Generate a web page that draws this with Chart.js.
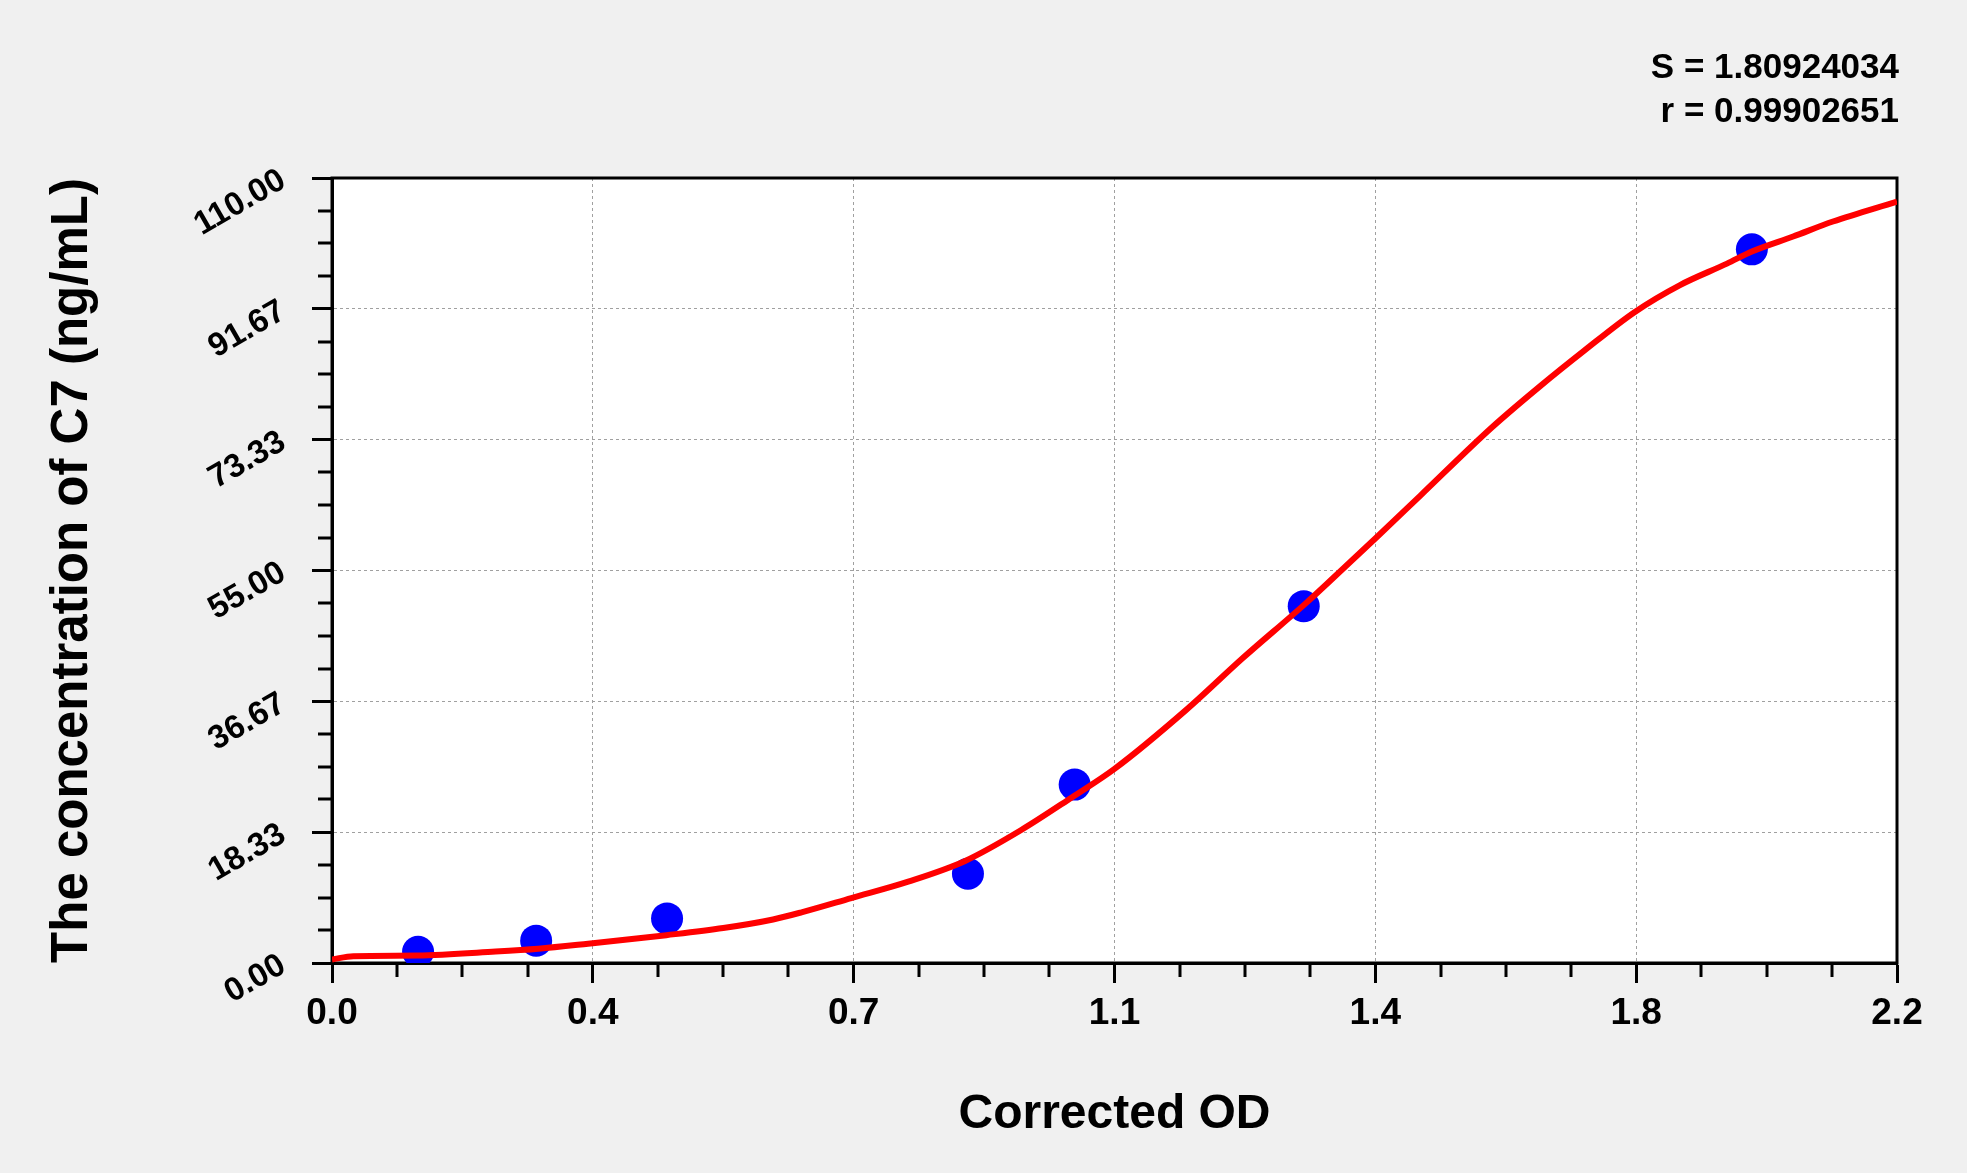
<!DOCTYPE html>
<html><head><meta charset="utf-8">
<script src="https://cdn.jsdelivr.net/npm/chart.js@4.4.0/dist/chart.umd.min.js"></script>
<style>html,body{margin:0;padding:0;background:#f0f0f0;overflow:hidden}canvas{display:block}</style>
</head><body>
<canvas id="c" width="1967" height="1173" style="width:1967px;height:1173px"></canvas>
<script>
// Standards (measured points)
const standardOD = [0.121, 0.287, 0.471, 0.894, 1.044, 1.366, 1.996];
const standardConc = [1.56, 3.13, 6.25, 12.5, 25, 50, 100];
// Fitted curve
const curveOD = [0, 0.03, 0.12, 0.23, 0.29, 0.36, 0.47, 0.55, 0.62, 0.66, 0.73, 0.81, 0.89, 0.97, 1.04, 1.10, 1.20, 1.28, 1.37, 1.44, 1.47, 1.53, 1.63, 1.698, 1.759, 1.831, 1.895, 1.961, 1.996, 2.054, 2.110, 2.20];
const curveConc = [0.5, 0.95, 1.05, 1.6, 2.0, 2.7, 3.9, 4.9, 6.1, 7.1, 9.1, 11.4, 14.3, 18.7, 23.2, 27.2, 35.4, 42.7, 50.5, 57.0, 59.8, 65.5, 75.0, 80.8, 85.7, 91.2, 95.0, 98.0, 99.7, 101.8, 103.9, 106.7];
// Axis ticks
const xTickValues = [0, 0.36667, 0.73333, 1.1, 1.46667, 1.83333, 2.2];
const xTickLabels = ['0.0', '0.4', '0.7', '1.1', '1.4', '1.8', '2.2'];
const yTickValues = [0, 18.3333, 36.6667, 55, 73.3333, 91.6667, 110];
const yTickLabels = ['0.00', '18.33', '36.67', '55.00', '73.33', '91.67', '110.00'];
const statLines = ['S = 1.80924034', 'r = 0.99902651'];
const xTitle = 'Corrected OD';
const yTitle = 'The concentration of C7 (ng/mL)';

const FONT = 'Liberation Sans';

const framePlugin = {
  id: 'frame',
  beforeDraw(chart) {
    const {ctx, chartArea: a} = chart;
    ctx.save();
    ctx.fillStyle = '#f0f0f0';
    ctx.fillRect(0, 0, chart.width, chart.height);
    ctx.fillStyle = '#ffffff';
    ctx.fillRect(a.left, a.top, a.right - a.left, a.bottom - a.top);
    ctx.restore();
  },
  beforeDatasetsDraw(chart) {
    const {ctx, chartArea: a, scales} = chart;
    ctx.save();
    ctx.strokeStyle = '#000';
    ctx.lineWidth = 3;
    ctx.strokeRect(a.left, a.top, a.right - a.left, a.bottom - a.top);
    // minor ticks derived from major tick values
    ctx.beginPath();
    for (let i = 0; i < xTickValues.length - 1; i++) {
      const v0 = xTickValues[i], v1 = xTickValues[i + 1];
      for (let j = 1; j < 4; j++) {
        const px = Math.round(scales.x.getPixelForValue(v0 + (v1 - v0) * j / 4));
        ctx.moveTo(px, a.bottom);
        ctx.lineTo(px, a.bottom + 14);
      }
    }
    for (let i = 0; i < yTickValues.length - 1; i++) {
      const v0 = yTickValues[i], v1 = yTickValues[i + 1];
      for (let j = 1; j < 4; j++) {
        const py = Math.round(scales.y.getPixelForValue(v0 + (v1 - v0) * j / 4));
        ctx.moveTo(a.left - 14, py);
        ctx.lineTo(a.left, py);
      }
    }
    ctx.stroke();
    ctx.restore();
  },
  afterDraw(chart) {
    const {ctx} = chart;
    ctx.save();
    ctx.fillStyle = '#000';
    ctx.font = 'bold 35px "' + FONT + '"';
    ctx.textAlign = 'right';
    ctx.textBaseline = 'alphabetic';
    ctx.fillText(statLines[0], 1899, 78);
    ctx.fillText(statLines[1], 1899, 122);
    ctx.restore();
  }
};

new Chart(document.getElementById('c'), {
  type: 'scatter',
  data: {
    datasets: [
      {
        label: 'fit',
        data: curveOD.map((x, i) => ({x: x, y: curveConc[i]})),
        showLine: true,
        borderColor: '#ff0000',
        borderWidth: 6,
        pointRadius: 0,
        cubicInterpolationMode: 'monotone',
        fill: false,
        order: 0
      },
      {
        label: 'standards',
        data: standardOD.map((x, i) => ({x: x, y: standardConc[i]})),
        backgroundColor: '#0000ff',
        borderColor: '#0000ff',
        borderWidth: 0,
        pointRadius: 16,
        order: 1
      }
    ]
  },
  options: {
    responsive: false,
    devicePixelRatio: 1,
    animation: false,
    layout: {padding: {top: 178, right: 70, bottom: 0, left: 0}},
    plugins: {legend: {display: false}, tooltip: {enabled: false}},
    scales: {
      x: {
        type: 'linear',
        position: 'bottom',
        min: 0,
        max: 2.2,
        afterFit(s) { s.height = 210; },
        afterBuildTicks(s) { s.ticks = xTickValues.map(v => ({value: v})); },
        grid: {color: '#a0a0a0', lineWidth: 1, tickLength: 20, tickColor: '#000', tickWidth: 3, drawTicks: true},
        border: {display: true, color: '#000', width: 3, dash: [3, 3]},
        ticks: {
          padding: 9, color: '#000', maxRotation: 0, minRotation: 0, autoSkip: false,
          font: {family: FONT, size: 37, weight: 'bold'},
          callback: (v, i) => xTickLabels[i]
        },
        title: {display: true, text: xTitle, color: '#000', font: {family: FONT, size: 48, weight: 'bold'}, padding: {top: 0, bottom: 29}}
      },
      y: {
        type: 'linear',
        position: 'left',
        min: 0,
        max: 110,
        afterFit(s) { s.width = 332; },
        afterBuildTicks(s) { s.ticks = yTickValues.map(v => ({value: v})); },
        grid: {color: '#a0a0a0', lineWidth: 1, tickLength: 20, tickColor: '#000', tickWidth: 3, drawTicks: true},
        border: {display: true, color: '#000', width: 3, dash: [3, 3]},
        ticks: {
          padding: 29, color: '#000', minRotation: 30, maxRotation: 30, autoSkip: false,
          font: {family: FONT, size: 33, weight: 'bold'},
          callback: (v, i) => yTickLabels[i]
        },
        title: {display: true, text: yTitle, color: '#000', font: {family: FONT, size: 51, weight: 'bold'}, padding: {top: 42, bottom: 0}}
      }
    }
  },
  plugins: [framePlugin]
});
</script>
</body></html>
